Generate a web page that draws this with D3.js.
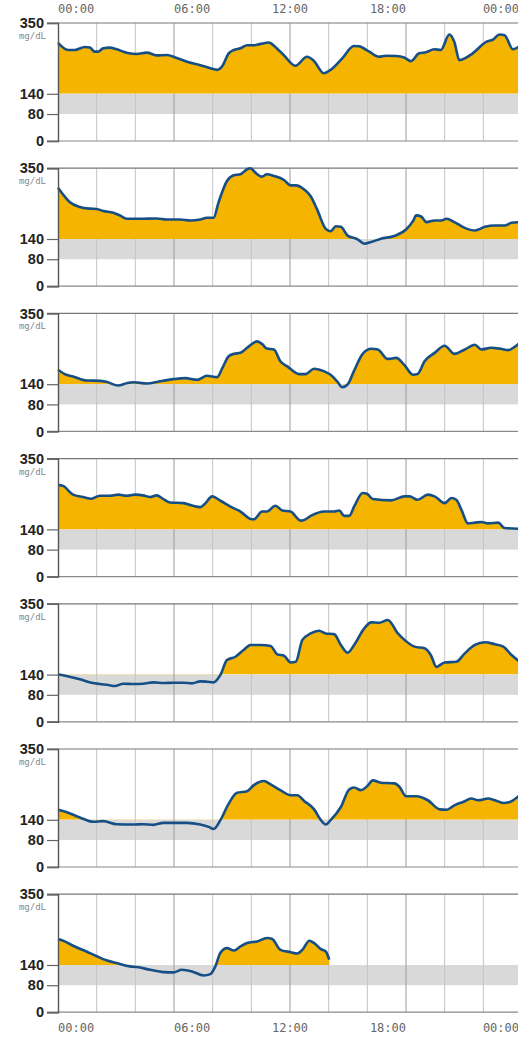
<!DOCTYPE html>
<html>
  <head>
    <meta charset="utf-8">
    <title>Daily glucose</title>
    <script src="https://d3js.org/d3.v7.min.js"></script>
    <style>
      body { margin: 0; background: #ffffff; }
      svg { display: block; }
      .tick-label { font-family: "Liberation Sans Narrow", "Arial Narrow", "Liberation Sans", sans-serif; font-size: 14.5px; font-weight: bold; fill: #222222; }
      .unit { font-family: "DejaVu Sans Mono", monospace; font-size: 9px; fill: #888888; }
      .time-label { font-family: "DejaVu Sans Mono", monospace; font-size: 12px; fill: #666666; }
    </style>
  </head>
  <body>
    <svg width="518" height="1038"></svg>
    <script>
      // readings per day: [hour, mg/dL]
      var day1 = [[0,291],[0.52,270],[0.86,270],[1.39,279],[1.65,277],[1.9,265],[2.07,265],[2.34,275],[2.68,277],[3.03,272],[3.55,262],[4.07,258],[4.6,262],[5.1,254],[5.63,255],[6.06,248],[6.67,235],[7.36,225],[7.88,216],[8.23,211],[8.48,221],[8.83,260],[9.09,270],[9.44,275],[9.78,284],[10.13,284],[10.48,288],[10.9,292],[11.24,279],[11.67,255],[12.28,223],[12.88,250],[13.23,238],[13.75,201],[14.1,211],[14.7,245],[15.3,282],[15.57,281],[16.1,265],[16.6,250],[16.95,253],[17.47,252],[17.9,248],[18.25,237],[18.68,260],[19.03,263],[19.46,272],[19.8,270],[20.24,316],[20.5,294],[20.76,240],[21.45,260],[22.15,294],[22.5,301],[22.84,316],[23.1,314],[23.53,272],[23.88,281]];
      var day2 = [[0,292],[0.26,272],[0.6,250],[1.13,235],[1.65,230],[2.0,229],[2.34,223],[2.86,218],[3.2,210],[3.55,200],[4.24,200],[5.1,201],[5.63,198],[6.32,198],[6.84,195],[7.36,198],[7.7,203],[8.05,203],[8.3,248],[8.74,312],[9.09,329],[9.44,332],[9.78,347],[9.96,350],[10.2,337],[10.55,325],[10.8,332],[11.17,327],[11.69,315],[12.03,299],[12.3,299],[12.73,287],[13.07,267],[13.4,228],[13.85,170],[14.1,163],[14.37,178],[14.63,176],[14.98,150],[15.5,139],[15.84,126],[16.2,131],[16.7,141],[17.4,149],[18.0,168],[18.36,193],[18.53,210],[18.8,206],[19.05,190],[19.48,195],[19.83,195],[20.1,200],[20.5,190],[21.04,173],[21.56,165],[22.08,176],[22.6,180],[23.1,180],[23.46,188],[23.88,190]];
      var day3 = [[0,183],[0.43,168],[0.78,163],[1.47,151],[2.16,150],[2.5,147],[3.12,136],[3.55,143],[3.9,146],[4.6,142],[5.28,149],[5.97,155],[6.58,158],[7.2,153],[7.7,165],[8.23,161],[8.5,188],[8.83,223],[9.1,230],[9.44,233],[9.78,248],[10.3,267],[10.56,259],[10.8,246],[11.17,243],[11.5,208],[11.86,193],[12.47,170],[12.8,170],[13.25,186],[13.77,178],[14.1,168],[14.46,147],[14.7,131],[14.98,139],[15.3,178],[15.76,230],[16.2,245],[16.54,243],[17.05,215],[17.5,218],[17.9,198],[18.36,168],[18.6,170],[18.96,208],[19.48,233],[20.0,254],[20.5,230],[21.04,243],[21.56,257],[21.9,243],[22.4,248],[22.9,245],[23.3,241],[23.6,250],[23.88,262]];
      var day4 = [[0,272],[0.26,269],[0.78,243],[1.3,236],[1.73,231],[2.16,240],[2.68,240],[3.12,243],[3.55,240],[3.98,243],[4.4,241],[4.76,236],[5.1,241],[5.45,230],[5.8,220],[6.5,218],[6.93,211],[7.36,206],[7.6,216],[7.97,238],[8.4,225],[8.9,208],[9.44,193],[9.96,171],[10.13,170],[10.56,193],[10.8,193],[11.25,210],[11.6,196],[12.03,193],[12.55,166],[12.73,168],[13.07,180],[13.77,193],[14.28,193],[14.55,196],[14.8,180],[15.06,180],[15.32,208],[15.76,248],[16.0,245],[16.28,230],[17.23,226],[17.92,238],[18.18,238],[18.6,228],[19.13,243],[19.48,238],[20.0,218],[20.35,233],[20.6,228],[20.87,198],[21.2,158],[21.56,160],[21.9,162],[22.25,158],[22.77,160],[23.1,144],[23.88,142]];
      var day5 = [[0,141],[0.43,136],[1.13,126],[1.73,116],[2.16,112],[2.6,109],[2.94,106],[3.38,113],[3.9,112],[4.4,113],[4.94,117],[5.45,115],[5.97,116],[6.5,116],[6.93,114],[7.36,120],[7.7,119],[8.05,117],[8.4,139],[8.74,183],[9.18,193],[9.6,213],[9.96,228],[10.48,228],[11.0,225],[11.34,200],[11.69,196],[12.03,176],[12.3,178],[12.64,243],[13.07,262],[13.5,270],[13.85,262],[14.28,260],[14.63,228],[14.98,205],[15.32,228],[15.84,277],[16.2,295],[16.62,294],[17.06,302],[17.58,262],[17.92,243],[18.44,223],[18.96,218],[19.3,196],[19.57,163],[20.0,176],[20.6,178],[21.04,203],[21.56,228],[22.08,236],[22.6,230],[23.03,223],[23.46,198],[23.88,178]];
      var day6 = [[0,170],[0.43,163],[1.13,147],[1.82,134],[2.34,136],[3.03,127],[3.9,126],[4.4,127],[4.94,125],[5.45,131],[5.97,131],[6.67,131],[7.36,126],[7.8,119],[8.05,113],[8.4,139],[8.83,188],[9.26,220],[9.78,225],[10.13,243],[10.65,255],[11.0,245],[11.5,228],[12.03,213],[12.38,213],[12.73,196],[13.25,171],[13.6,139],[13.85,126],[14.1,139],[14.63,178],[15.06,230],[15.32,236],[15.67,228],[16.0,240],[16.28,257],[16.7,250],[17.4,248],[17.66,238],[18.0,210],[18.53,210],[19.13,198],[19.74,171],[20.1,170],[20.5,183],[20.95,193],[21.38,203],[21.73,198],[22.25,203],[22.6,198],[23.03,190],[23.37,193],[23.88,213]];
      var day7 = [[0,217],[0.35,210],[0.78,197],[1.47,180],[2.0,166],[2.5,154],[3.03,146],[3.72,136],[4.07,134],[4.76,126],[5.45,119],[5.97,118],[6.4,126],[6.93,121],[7.53,109],[7.88,113],[8.14,136],[8.4,176],[8.74,190],[9.1,183],[9.44,195],[9.78,205],[10.3,210],[10.82,220],[11.08,217],[11.5,185],[12.03,178],[12.38,174],[12.64,185],[13.0,212],[13.25,205],[13.6,187],[13.85,180],[14.03,156]];

      var days = [day1, day2, day3, day4, day5, day6, day7];
      var yTicks = [0, 80, 140, 350];
      var gridHours = [2, 4, 6, 8, 10, 12, 14, 16, 18, 20, 22];
      var labelHours = [0, 6, 12, 18, 24];
      var timeLabels = ["00:00", "06:00", "12:00", "18:00", "00:00"];
      var targetLo = 80;
      var targetHi = 140;

      var svg = d3.select("svg");
      var width = 518;
      var left = 58;
      var panelTop = 23;
      var panelH = 118;
      var panelStep = 145.2;

      var x = d3.scaleLinear().domain([0, 24]).range([left, 522]);

      var defs = svg.append("defs");

      days.forEach(function(data, i) {
        var top = panelTop + panelStep * i;
        var y = d3.scaleLinear().domain([0, 350]).range([top + panelH, top]);
        var g = svg.append("g");

        // only fill the part above the target band
        defs.append("clipPath").attr("id", "above" + i)
          .append("rect")
          .attr("x", left).attr("y", top)
          .attr("width", width - left).attr("height", y(targetHi) - top);

        // target band
        g.append("rect")
          .attr("x", left).attr("y", y(targetHi))
          .attr("width", width - left).attr("height", y(targetLo) - y(targetHi))
          .attr("fill", "#d9d9d9");

        // vertical grid
        g.selectAll(".grid").data(gridHours).enter().append("line")
          .attr("x1", function(d) { return x(d); })
          .attr("x2", function(d) { return x(d); })
          .attr("y1", top).attr("y2", top + panelH)
          .attr("stroke", function(d) { return d % 6 === 0 ? "#9a9a9a" : "#c4c4c4"; })
          .attr("stroke-width", 1);

        var area = d3.area()
          .x(function(d) { return x(d[0]); })
          .y0(y(targetHi))
          .y1(function(d) { return y(d[1]); })
          .curve(d3.curveMonotoneX);
        g.append("path")
          .datum(data)
          .attr("d", area)
          .attr("fill", "#f4b400")
          .attr("clip-path", "url(#above" + i + ")");

        // frame lines top / bottom
        g.append("line")
          .attr("x1", left - 11).attr("x2", width)
          .attr("y1", y(350)).attr("y2", y(350))
          .attr("stroke", "#777777").attr("stroke-width", 1.2);
        g.append("line")
          .attr("x1", left - 11).attr("x2", width)
          .attr("y1", y(0)).attr("y2", y(0))
          .attr("stroke", "#8a8a8a").attr("stroke-width", 1.2);

        var line = d3.line()
          .x(function(d) { return x(d[0]); })
          .y(function(d) { return y(d[1]); })
          .curve(d3.curveMonotoneX);
        g.append("path")
          .datum(data)
          .attr("d", line)
          .attr("fill", "none")
          .attr("stroke", "#164f86")
          .attr("stroke-width", 2.6)
          .attr("stroke-linejoin", "round");

        var axis = g.append("g")
          .attr("transform", "translate(" + left + ",0)")
          .call(d3.axisLeft(y).tickValues(yTicks).tickSize(11).tickPadding(3));
        axis.select(".domain").attr("stroke", "#555555").attr("stroke-width", 1.4);
        axis.selectAll(".tick line").attr("stroke", "#666666").attr("stroke-width", 1.2);
        axis.selectAll(".tick text")
          .attr("class", "tick-label")
          .attr("font-family", null).attr("font-size", null).attr("fill", null);

        g.append("text")
          .attr("class", "unit")
          .attr("x", left - 12).attr("y", y(350) + 16)
          .attr("text-anchor", "end")
          .text("mg/dL");
      });

      // time labels top and bottom
      function anchorFor(h) { return h < 12 ? "start" : (h === 12 ? "middle" : "end"); }
      [13, 1032].forEach(function(baseline) {
        svg.append("g").selectAll("text").data(labelHours).enter().append("text")
          .attr("class", "time-label")
          .attr("x", function(d) { return d === 24 ? x(24) - 3 : x(d); })
          .attr("y", baseline)
          .attr("text-anchor", function(d) { return anchorFor(d); })
          .text(function(d, i) { return timeLabels[i]; });
      });
    </script>
  </body>
</html>
